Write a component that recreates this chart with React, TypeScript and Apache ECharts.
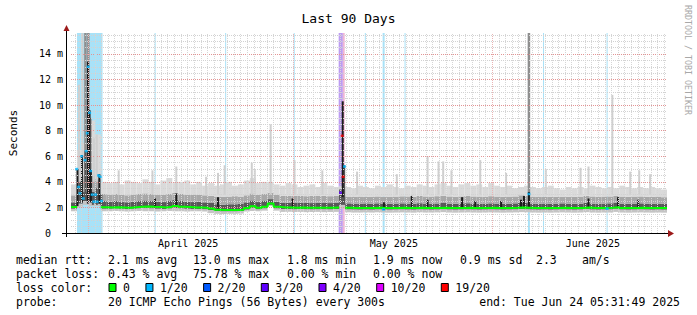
import React, { useEffect, useRef } from "react";
import * as echarts from "echarts";

const FONT = "'DejaVu Sans Mono', monospace";

const titleText = "Last 90 Days";
const yAxisName = "Seconds";
const watermarkText = "RRDTOOL / TOBI OETIKER";
const X_DAYS = 90;
const Y_MAX = 15.64;
const BIN_DAYS = 0.9;
const yMajorStep = 2;
const yMinorStep = 0.5;

const monthLabels = ["April 2025", "May 2025", "June 2025"];
const monthLabelDays = [17.7, 48.75, 78.8];
const majorGridDays = [2.6, 33.6, 63.6];
const firstDayLine = 0.6;

const lossLabels = ["0", "1/20", "2/20", "3/20", "4/20", "10/20", "19/20"];
const lossColors = ["#00ff00", "#00b8ff", "#0059ff", "#5e00ff", "#7e00ff", "#dd00ff", "#ff0000"];
const lossBgColors = ["#b3ffb3", "#a8e2f8", "#a8c4ff", "#bc9cf2", "#cba6f7", "#eeb0fb", "#f0b4d4"];

// smoke levels per bin (0.9 day each), in ms
const smokeMin = [
  1.7, 2.0, 2.2, 2.1, 2.1, 1.7, 1.7, 1.72, 1.7, 1.68,
  1.7, 1.72, 1.7, 1.7, 1.68, 1.7, 1.72, 1.7, 1.7, 1.68,
  1.7, 1.7, 1.68, 1.55, 1.5, 1.48, 1.5, 1.5, 1.52, 1.68,
  1.72, 1.7, 1.75, 2.1, 1.75, 1.65, 1.66, 1.64, 1.65, 1.63,
  1.64, 1.65, 1.63, 1.64, 1.65, 1.9, 1.62, 1.6, 1.6, 1.61,
  1.6, 1.62, 1.6, 1.59, 1.6, 1.61, 1.6, 1.59, 1.62, 1.6,
  1.6, 1.61, 1.63, 1.6, 1.59, 1.6, 1.61, 1.6, 1.59, 1.6,
  1.61, 1.6, 1.59, 1.6, 1.61, 1.63, 1.62, 1.6, 1.59, 1.6,
  1.59, 1.6, 1.61, 1.6, 1.59, 1.6, 1.63, 1.6, 1.59, 1.6,
  1.6, 1.65, 1.6, 1.59, 1.6, 1.61, 1.6, 1.59, 1.6, 1.59,
];
const darkLow = [
  1.9, 2.3, 2.5, 2.4, 2.3, 1.9, 1.9, 1.92, 1.9, 1.88,
  1.9, 1.93, 1.95, 1.93, 1.9, 1.88, 1.92, 1.98, 1.93, 1.9,
  1.88, 1.88, 1.86, 1.8, 1.72, 1.7, 1.7, 1.7, 1.72, 1.83,
  1.97, 1.86, 1.93, 2.2, 1.93, 1.88, 1.88, 1.86, 1.88, 1.86,
  1.85, 1.86, 1.86, 1.85, 1.88, 2.2, 1.85, 1.84, 1.83, 1.84,
  1.83, 1.85, 1.84, 1.83, 1.84, 1.85, 1.84, 1.83, 1.85, 1.84,
  1.83, 1.84, 1.86, 1.84, 1.83, 1.84, 1.85, 1.84, 1.83, 1.84,
  1.85, 1.84, 1.83, 1.84, 1.85, 1.88, 1.86, 1.84, 1.83, 1.84,
  1.83, 1.84, 1.85, 1.84, 1.83, 1.84, 1.88, 1.84, 1.83, 1.84,
  1.85, 1.9, 1.84, 1.83, 1.84, 1.85, 1.84, 1.83, 1.84, 1.83,
];
const darkHigh = [
  2.4, 3.0, 3.2, 3.2, 3.0, 2.5, 2.45, 2.5, 2.42, 2.4,
  2.45, 2.5, 2.55, 2.5, 2.45, 2.42, 2.5, 2.6, 2.5, 2.45,
  2.42, 2.45, 2.4, 2.35, 2.25, 2.22, 2.25, 2.25, 2.28, 2.4,
  2.55, 2.42, 2.5, 2.65, 2.45, 2.38, 2.36, 2.35, 2.38, 2.35,
  2.34, 2.36, 2.35, 2.34, 2.38, 3.0, 2.32, 2.3, 2.3, 2.31,
  2.3, 2.32, 2.3, 2.28, 2.3, 2.32, 2.3, 2.29, 2.33, 2.3,
  2.3, 2.31, 2.35, 2.3, 2.29, 2.3, 2.33, 2.3, 2.29, 2.3,
  2.32, 2.3, 2.29, 2.3, 2.32, 2.38, 2.35, 2.3, 2.29, 2.3,
  2.29, 2.3, 2.32, 2.3, 2.29, 2.3, 2.36, 2.3, 2.29, 2.3,
  2.32, 2.38, 2.3, 2.29, 2.3, 2.32, 2.3, 2.29, 2.3, 2.29,
];
const midHigh = [
  2.95, 4.0, 4.5, 4.5, 4.2, 3.05, 3.0, 3.05, 2.98, 2.95,
  3.0, 3.05, 3.1, 3.05, 3.0, 2.98, 3.08, 3.15, 3.05, 3.0,
  2.98, 3.0, 2.95, 2.9, 2.85, 2.82, 2.85, 2.88, 2.85, 2.95,
  3.1, 2.98, 3.05, 3.15, 3.0, 2.92, 2.9, 2.9, 2.92, 2.88,
  2.9, 2.92, 2.9, 2.88, 2.92, 3.4, 2.85, 2.82, 2.85, 2.84,
  2.82, 2.86, 2.84, 2.82, 2.85, 2.87, 2.86, 2.84, 2.9, 2.86,
  2.85, 2.88, 2.92, 2.86, 2.84, 2.86, 2.9, 2.86, 2.85, 2.84,
  2.88, 2.85, 2.84, 2.85, 2.86, 2.95, 2.9, 2.85, 2.82, 2.84,
  2.83, 2.84, 2.82, 2.84, 2.83, 2.85, 2.9, 2.86, 2.84, 2.85,
  2.86, 2.92, 2.85, 2.84, 2.85, 2.86, 2.84, 2.83, 2.85, 2.8,
];
const smokeMax = [
  3.8, 6.5, 7.0, 8.8, 7.7, 4.0, 3.9, 4.0, 3.8, 4.1,
  4.0, 3.9, 4.2, 4.0, 3.8, 4.1, 4.3, 3.9, 4.0, 4.1,
  3.8, 4.0, 3.7, 3.9, 3.7, 3.8, 4.0, 3.7, 3.8, 4.1,
  4.3, 3.9, 4.0, 4.0, 3.8, 3.7, 3.9, 3.8, 3.6, 3.7,
  3.8, 3.6, 3.9, 3.7, 3.6, 3.7, 3.6, 3.5, 3.7, 3.6,
  3.5, 3.7, 3.6, 3.8, 3.6, 3.5, 3.7, 3.6, 3.8, 3.7,
  3.6, 3.8, 3.9, 3.7, 3.6, 3.8, 3.9, 3.7, 3.8, 3.6,
  3.9, 3.7, 3.6, 3.7, 3.5, 3.6, 3.7, 3.6, 3.5, 3.6,
  3.7, 3.5, 3.4, 3.6, 3.5, 3.6, 3.5, 3.7, 3.6, 3.5,
  3.6, 3.5, 3.7, 3.6, 3.5, 3.6, 3.5, 3.6, 3.5, 3.4,
];
// median rtt per bin (null where loss points are drawn instead)
const medianBins: (number | null)[] = [
  2.03, null, null, null, null, 2.02, 2.0, 2.02, 2.0, 1.98,
  2.02, 2.05, 2.08, 2.05, 2.03, 2.0, 2.05, 2.12, 2.05, 2.03,
  2.0, 2.0, 1.98, 1.92, 1.82, 1.8, 1.8, 1.8, 1.82, 1.95,
  2.1, 1.98, 2.05, 2.3, 2.05, 2.0, 2.0, 1.98, 2.0, 1.98,
  1.97, 1.98, 1.98, 1.97, 2.0, null, 1.97, 1.96, 1.95, 1.96,
  1.95, 1.97, 1.96, 1.95, 1.96, 1.97, 1.96, 1.95, 1.97, 1.96,
  1.95, 1.96, 1.98, 1.96, 1.95, 1.96, 1.97, 1.96, 1.95, 1.96,
  1.97, 1.96, 1.95, 1.96, 1.97, 2.0, 1.98, 1.96, 1.95, 1.96,
  1.95, 1.96, 1.97, 1.96, 1.95, 1.96, 2.0, 1.96, 1.95, 1.96,
  1.97, 2.02, 1.96, 1.95, 1.96, 1.97, 1.96, 1.95, 1.96, 1.95,
];

// median points with packet loss (day, ms, loss level)
const lossDotDays = [0.86, 1.16, 1.35, 1.61, 1.85, 2.1, 2.3, 2.45, 2.6, 2.81, 2.96, 3.2, 3.45, 3.71, 3.95, 4.16, 4.4, 4.61,
  40.7, 40.95, 41.1, 41.3, 47.2, 69.15, 80.95];
const lossDotVals = [5.0, 3.6, 3.1, 6.0, 2.7, 5.7, 6.4, 7.8, 13.0, 9.4, 4.85, 3.0, 2.45, 3.0, 2.45, 4.5, 4.4, 2.5,
  3.15, 7.6, 4.4, 5.2, 1.85, 3.05, 1.9];
const lossDotLevels = [1, 1, 1, 1, 1, 1, 1, 1, 1, 1, 1, 1, 1, 1, 1, 1, 1, 1,
  3, 6, 6, 1, 1, 1, 1];

// loss background bands (days)
const lossBandStart = [0.9, 12.63, 23.28, 33.63, 40.42, 41.05, 44.37, 47.06, 50.37, 69.0, 71.28, 80.88];
const lossBandEnd = [4.76, 12.78, 23.43, 33.78, 41.05, 41.33, 44.52, 47.36, 50.52, 69.3, 71.43, 81.03];
const lossBandLevel = [1, 1, 1, 1, 3, 6, 1, 1, 1, 1, 1, 1];

// narrow smoke columns (day, low ms, high ms, shade: 0 black, 1 dark, 2 mid, 3 light)
const colDay = [
  7.2, 12.3, 15.9, 20.4, 22.2, 23.2, 27.3, 27.75, 30.15, 33.75, 37.95, 43.2, 49.2, 53.85, 55.5, 56.2, 57.45,
  61.8, 65.7, 71.7, 76.95, 78.15, 81.75, 84.45, 85.8, 87.45,
  1.2, 1.73, 3.45, 3.9,
  2.18, 2.62, 2.93, 69.15,
  1.35, 2.18, 3.3, 3.9, 4.58, 40.65, 41.25,
  0.98, 1.65, 2.55, 2.8, 3.0, 4.28, 41.03, 69.15, 12.68, 15.9, 22.2, 33.45, 47.25, 51.45, 53.85, 59.06,
  61.05, 64.95, 67.95, 68.4, 78.15, 82.6, 85.65,
];
const colLow = [
  3.0, 3.0, 3.0, 3.0, 3.0, 3.0, 3.0, 3.0, 3.0, 3.0, 3.0, 3.0, 3.0, 3.0, 3.0, 3.0, 3.0,
  3.0, 3.0, 3.0, 3.0, 3.0, 3.0, 3.0, 3.0, 3.0,
  4.0, 4.0, 4.0, 4.0,
  4.0, 4.0, 4.0, 2.2,
  2.6, 2.6, 2.2, 2.2, 2.2, 2.6, 2.4,
  2.1, 2.4, 2.3, 3.0, 2.4, 2.3, 2.8, 2.0, 1.95, 2.0, 1.9, 1.95, 1.8, 1.95, 1.95, 1.95,
  1.95, 1.95, 1.95, 1.95, 1.95, 1.95, 1.95,
];
const colHigh = [
  4.9, 4.9, 5.2, 4.4, 4.7, 5.3, 5.5, 5.0, 8.5, 5.7, 4.9, 4.8, 4.6, 6.0, 5.6, 5.6, 4.9,
  5.7, 4.7, 5.0, 5.1, 5.2, 10.8, 4.8, 4.9, 4.6,
  11.6, 15.64, 7.4, 7.7,
  15.64, 15.64, 9.0, 15.64,
  4.0, 6.4, 3.2, 3.5, 3.0, 3.4, 5.3,
  5.0, 6.1, 13.4, 9.6, 5.0, 4.6, 10.3, 3.2, 2.7, 3.1, 2.8, 2.7, 2.4, 2.9, 2.6, 2.8,
  2.5, 2.5, 2.6, 2.9, 2.7, 2.8, 2.6,
];
const colShade = [
  3, 3, 3, 3, 3, 3, 3, 3, 3, 3, 3, 3, 3, 3, 3, 3, 3,
  3, 3, 3, 3, 3, 3, 3, 3, 3,
  3, 3, 3, 3,
  2, 2, 2, 2,
  1, 1, 1, 1, 1, 1, 1,
  0, 0, 0, 0, 0, 0, 0, 0, 0, 0, 0, 0, 0, 0, 0, 0,
  0, 0, 0, 0, 0, 0, 0,
];

const statsRows = [
  ["median rtt:", "2.1 ms avg", "13.0 ms max", "1.8 ms min", "1.9 ms now", "0.9 ms sd", "2.3", "am/s"],
  ["packet loss:", "0.43 % avg", "75.78 % max", "0.00 % min", "0.00 % now"],
];
const lossColorTitle = "loss color:";
const probeTitle = "probe:";
const probeText = "20 ICMP Echo Pings (56 Bytes) every 300s";
const endText = "end: Tue Jun 24 05:31:49 2025";

// styling
const smokeShades = ["#c4c4c4", "#585858", "#a8a8a8", "#dadada"];
const colShades = ["#1c1c1c", "#545454", "#8e8e8e", "#cfcfcf"];
const colWidths = [2, 2, 2.5, 2];
const LEG_FONT = 11.5;
const CHAR_W = LEG_FONT * 0.602;
const statsColX = [16, 108, 193, 287, 373, 460, 536, 582];
const rowY = [259.5, 273.5, 287.5, 301.5];

export default function App() {
  const ref = useRef<HTMLDivElement>(null);

  useEffect(() => {
    if (!ref.current) return;
    const chart = echarts.init(ref.current, null, { renderer: "svg" });

    const smokeData = smokeMin.map((v, i) => [i * BIN_DAYS, v, darkLow[i], darkHigh[i], midHigh[i], smokeMax[i]]);
    const colData = colDay.map((d, k) => [d, colLow[k], colHigh[k], colShade[k]]);

    const medianLine: any[] = [];
    medianBins.forEach((v, i) => {
      if (v == null) {
        medianLine.push([i * BIN_DAYS, "-"]);
      } else {
        medianLine.push([i * BIN_DAYS, v], [(i + 1) * BIN_DAYS, v]);
      }
    });

    const dotData = lossDotDays.map((d, k) => ({
      value: [d, lossDotVals[k]],
      itemStyle: { color: lossColors[lossDotLevels[k]] },
    }));

    const dayLines: any[] = [];
    for (let d = firstDayLine; d < X_DAYS; d += 1) dayLines.push({ xAxis: d });

    const txt = (x: number, y: number, s: string, extra: any = {}) => ({
      type: "text",
      x,
      y,
      silent: true,
      z: 20,
      style: {
        text: s,
        fill: "#000",
        fontFamily: FONT,
        fontSize: LEG_FONT,
        align: "left",
        verticalAlign: "middle",
        ...extra,
      },
    });

    const graphics: any[] = [];
    statsRows.forEach((row, r) => row.forEach((t, c) => graphics.push(txt(statsColX[c], rowY[r], t))));
    graphics.push(txt(16, rowY[2], lossColorTitle));
    let bx = 109;
    lossLabels.forEach((lab, k) => {
      graphics.push({
        type: "rect",
        silent: true,
        z: 20,
        shape: { x: bx, y: rowY[2] - 4, width: 7, height: 8 },
        style: { fill: lossColors[k], stroke: "#000", lineWidth: 1 },
      });
      graphics.push(txt(bx + 14, rowY[2], lab));
      bx += 14 + lab.length * CHAR_W + 16;
    });
    graphics.push(txt(16, rowY[3], probeTitle));
    graphics.push(txt(108, rowY[3], probeText));
    graphics.push(txt(680, rowY[3], endText, { align: "right" }));
    // axes lines and arrows
    graphics.push({ type: "line", silent: true, z: 20, shape: { x1: 62, y1: 233.5, x2: 669, y2: 233.5 }, style: { stroke: "#000", lineWidth: 1 } });
    graphics.push({ type: "line", silent: true, z: 20, shape: { x1: 66.5, y1: 237, x2: 66.5, y2: 30 }, style: { stroke: "#000", lineWidth: 1 } });
    graphics.push({ type: "polygon", silent: true, z: 21, shape: { points: [[668, 230], [674, 233.5], [668, 237]] }, style: { fill: "#9c1a1a" } });
    graphics.push({ type: "polygon", silent: true, z: 21, shape: { points: [[63.5, 31], [66.5, 25], [69.5, 31]] }, style: { fill: "#9c1a1a" } });
    // watermark
    graphics.push({
      type: "text",
      x: 688,
      y: 60,
      rotation: -Math.PI / 2,
      silent: true,
      z: 20,
      style: { text: watermarkText, fill: "#a8a8a8", fontFamily: FONT, fontSize: 8.3, align: "center", verticalAlign: "middle" },
    });

    const option: any = {
      animation: false,
      backgroundColor: "#ffffff",
      title: {
        text: titleText,
        left: "center",
        top: 7,
        textStyle: { fontFamily: FONT, fontSize: 13, fontWeight: "normal", color: "#000" },
      },
      grid: { left: 67, right: 30, top: 33, bottom: 82, containLabel: false },
      xAxis: [
        {
          type: "value",
          min: 0,
          max: X_DAYS,
          position: "bottom",
          axisLine: { show: false },
          axisTick: { show: false },
          splitLine: { show: false },
          axisLabel: {
            customValues: monthLabelDays,
            formatter: (v: number) => {
              const k = monthLabelDays.findIndex((d) => Math.abs(d - v) < 1e-6);
              return k >= 0 ? monthLabels[k] : "";
            },
            fontFamily: FONT,
            fontSize: 10,
            color: "#000",
            margin: 5,
          },
        },
      ],
      yAxis: [
        {
          type: "value",
          min: 0,
          max: Y_MAX,
          interval: yMajorStep,
          position: "left",
          z: 4,
          name: yAxisName,
          nameLocation: "middle",
          nameGap: 52,
          nameRotate: 90,
          nameTextStyle: { fontFamily: FONT, fontSize: 11, color: "#000" },
          axisLine: { show: false },
          axisTick: { show: false },
          axisLabel: {
            showMaxLabel: false,
            formatter: (v: number) => {
              if (Math.abs(v) < 1e-9) return "{z|0}";
              if (Math.abs(v % yMajorStep) < 1e-9) return `${v} m`;
              return "";
            },
            rich: { z: { padding: [0, 12, 0, 0], fontFamily: FONT, fontSize: 10, color: "#000" } },
            fontFamily: FONT,
            fontSize: 10,
            color: "#000",
            margin: 8,
          },
          splitLine: {
            show: true,
            showMinLine: false,
            showMaxLine: false,
            lineStyle: { color: "#e39494", type: [1, 1], width: 1 },
          },
        },
        {
          type: "value",
          min: 0,
          max: Y_MAX,
          interval: yMinorStep,
          position: "right",
          z: 3,
          axisLine: { show: false },
          axisTick: { show: false },
          axisLabel: { show: false },
          splitLine: {
            show: true,
            showMinLine: false,
            showMaxLine: false,
            lineStyle: { color: "#d2d2d2", type: [1, 1], width: 1 },
          },
        },
      ],
      series: [
        {
          type: "line",
          name: "lossBands",
          data: [],
          z: 1,
          silent: true,
          markArea: {
            silent: true,
            data: lossBandStart.map((s, k) => [
              { xAxis: s, itemStyle: { color: lossBgColors[lossBandLevel[k]], opacity: 1 } },
              { xAxis: lossBandEnd[k] },
            ]),
          },
        },
        {
          type: "custom",
          name: "smoke",
          z: 2,
          silent: true,
          clip: true,
          data: smokeData,
          renderItem: (params: any, api: any) => {
            const d0 = api.value(0);
            const x0 = api.coord([d0, 0])[0];
            const x1 = api.coord([d0 + BIN_DAYS, 0])[0];
            const children: any[] = [];
            for (let k = 0; k < 4; k++) {
              const yLo = api.coord([d0, api.value(k + 1)])[1];
              const yHi = api.coord([d0, api.value(k + 2)])[1];
              if (yLo - yHi <= 0) continue;
              children.push({
                type: "rect",
                shape: { x: x0, y: yHi, width: x1 - x0, height: yLo - yHi },
                style: { fill: smokeShades[k] },
              });
            }
            return { type: "group", children };
          },
        },
        {
          type: "custom",
          name: "columns",
          z: 2,
          silent: true,
          clip: true,
          data: colData,
          renderItem: (params: any, api: any) => {
            const d = api.value(0);
            const shade = api.value(3);
            const w = colWidths[shade];
            const x = api.coord([d, 0])[0];
            const yLo = api.coord([d, api.value(1)])[1];
            const yHi = api.coord([d, api.value(2)])[1];
            return {
              type: "rect",
              shape: { x: x - w / 2, y: yHi, width: w, height: yLo - yHi },
              style: { fill: colShades[shade] },
            };
          },
        },
        {
          type: "line",
          name: "dayGrid",
          data: [],
          z: 3,
          silent: true,
          markLine: {
            silent: true,
            symbol: ["none", "none"],
            label: { show: false },
            lineStyle: { color: "#d6d6d6", type: [1, 1], width: 1 },
            data: dayLines,
          },
        },
        {
          type: "line",
          name: "majorGrid",
          data: [],
          z: 4,
          silent: true,
          markLine: {
            silent: true,
            symbol: ["none", "none"],
            label: { show: false },
            lineStyle: { color: "#eab4b4", type: [1, 1], width: 1 },
            data: majorGridDays.map((d) => ({ xAxis: d })),
          },
        },
        {
          type: "line",
          name: "median",
          data: medianLine,
          z: 10,
          showSymbol: false,
          symbol: "none",
          connectNulls: false,
          silent: true,
          lineStyle: { color: "#00ff00", width: 2 },
        },
        {
          type: "scatter",
          name: "lossDots",
          data: dotData,
          z: 11,
          symbol: "rect",
          symbolSize: [3, 2.5],
          silent: true,
        },
      ],
      graphic: { elements: graphics },
    };

    chart.setOption(option);
    return () => chart.dispose();
  }, []);

  return (
    <div
      ref={ref}
      style={{ position: "absolute", left: 0, top: 0, width: 697, height: 315, background: "#fff" }}
    />
  );
}
